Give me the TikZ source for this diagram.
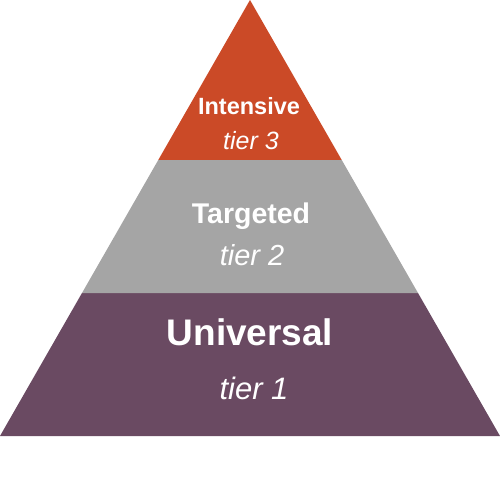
\documentclass[tikz,border=0pt]{standalone}
\usepackage{fontspec}
\setmainfont{Liberation Sans}
\usetikzlibrary{calc}
\definecolor{intensive}{HTML}{CB4A27}
\definecolor{targeted}{HTML}{A5A5A5}
\definecolor{universal}{HTML}{6A4A62}
\tikzset{
  every picture/.style={line join=round, line cap=round},
  tiername/.style={text=white, anchor=base, inner sep=0pt, font=\bfseries},
  tiernum/.style={text=white, anchor=base, inner sep=0pt, font=\itshape},
}
\newcommand{\fsz}[1]{\fontsize{#1}{#1}\selectfont}

\begin{document}
\begin{tikzpicture}[x=1pt,y=-1pt]
\useasboundingbox (0,0) rectangle (500,500);
\coordinate (apex) at (250,0);
\coordinate (bl) at (0,436);
\coordinate (br) at (500,436);
% tier boundaries
\coordinate (l3) at ($(apex)!{160/436}!(bl)$);
\coordinate (r3) at ($(apex)!{160/436}!(br)$);
\coordinate (l2) at ($(apex)!{293/436}!(bl)$);
\coordinate (r2) at ($(apex)!{293/436}!(br)$);
\fill[universal] (l2) -- (bl) -- (br) -- (r2) -- cycle;
\fill[targeted] (l3) -- (l2) -- (r2) -- (r3) -- cycle;
\fill[intensive] (apex) -- (l3) -- (r3) -- cycle;
% labels
\node[tiername] (intensive) at (249,114) {\fsz{23.5}Intensive};
\node[tiernum] (tier3) at (251,149) {\fsz{25}tier 3};
\node[tiername] (targeted) at (251,223) {\fsz{28.5}Targeted};
\node[tiernum] (tier2) at (252,265) {\fsz{29}tier 2};
\node[tiername] (universal) at (250,345) {\fsz{37}Universal};
\node[tiernum] (tier1) at (254,399) {\fsz{31}tier 1};
\end{tikzpicture}
\end{document}
